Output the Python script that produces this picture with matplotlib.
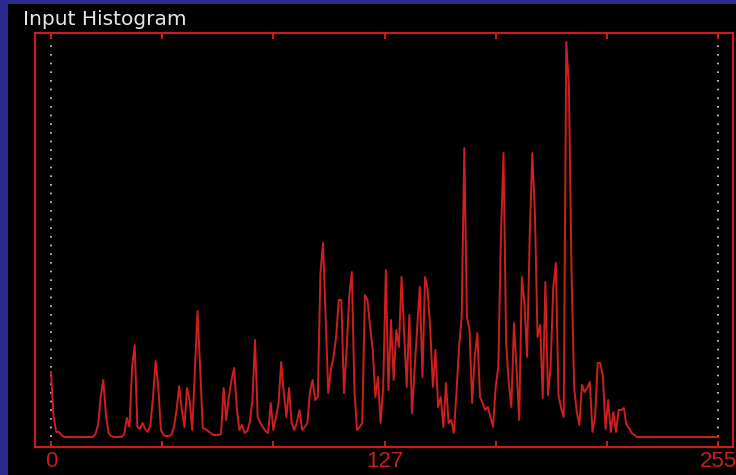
import matplotlib
matplotlib.use("Agg")
import matplotlib.pyplot as plt
from matplotlib.patches import Rectangle
import numpy as np

title = "Input Histogram"
tick_positions = [0, 42.5, 85, 127.5, 170, 212.5, 255]
tick_labels = ["0", "", "", "127", "", "", "255"]
marker_lines = [0, 255]

counts = [
    65, 20, 5, 5, 2, 0, 0, 0, 0, 0,
    0, 0, 0, 0, 0, 0, 0, 3, 12, 40,
    57, 22, 4, 1, 0, 0, 0, 0, 3, 19,
    10, 70, 92, 10, 8, 14, 8, 5, 12, 40,
    76, 50, 7, 2, 1, 1, 2, 10, 27, 51,
    27, 10, 49, 37, 7, 67, 126, 70, 9, 8,
    6, 4, 2, 2, 2, 3, 49, 17, 40, 57,
    69, 30, 7, 12, 4, 6, 15, 37, 97, 20,
    14, 10, 6, 4, 34, 7, 20, 34, 75, 44,
    20, 49, 14, 7, 15, 27, 7, 10, 14, 45,
    57, 37, 40, 164, 194, 119, 44, 67, 80, 100,
    137, 137, 44, 87, 140, 165, 47, 7, 10, 14,
    142, 137, 110, 87, 40, 60, 14, 50, 167, 47,
    117, 57, 107, 90, 160, 104, 50, 122, 24, 67,
    110, 150, 60, 160, 147, 107, 50, 87, 30, 40,
    10, 54, 14, 17, 4, 44, 90, 120, 289, 120,
    107, 34, 80, 104, 40, 34, 27, 30, 20, 10,
    50, 70, 200, 284, 94, 54, 30, 114, 67, 17,
    160, 134, 80, 200, 284, 224, 100, 112, 39, 155,
    42, 70, 149, 174, 42, 29, 20, 395, 350, 165,
    50, 25, 12, 52, 45, 49, 55, 5, 20, 74,
    74, 60, 8, 37, 5, 25, 5, 27, 27, 29,
    12, 9, 4, 2, 0, 0, 0, 0, 0, 0,
    0, 0, 0, 0, 0, 0, 0, 0, 0, 0,
    0, 0, 0, 0, 0, 0, 0, 0, 0, 0,
    0, 0, 0, 0, 0, 0,
]
levels = list(range(len(counts)))

W, H = 736, 475
fig = plt.figure(figsize=(W / 100, H / 100), dpi=100)
fig.patch.set_facecolor("#2b2b8e")
fig.patches.append(Rectangle((8 / W, 0), 1 - 8 / W, 1 - 3.5 / H,
                             transform=fig.transFigure, facecolor="black",
                             edgecolor="none", zorder=-10))

red = "#c81e1e"
ax = fig.add_axes([35 / W, (H - 447) / H, (733 - 35) / W, (447 - 33) / H])
ax.set_zorder(1)
ax.set_facecolor("black")
ax.plot(levels, counts, color="#cc1f1f", lw=1.4, zorder=3)
ax.vlines(marker_lines, 0, 392, colors="#d8d8d8", linestyles=(0, (1, 4.2)),
          lw=1.2, zorder=2)

ax.set_xlim(-6.12, 260.73)
ax.set_ylim(-10, 404)
for s in ax.spines.values():
    s.set_color(red)
    s.set_linewidth(1.6)
ax.set_yticks([])
ax.set_xticks(tick_positions)
ax.set_xticklabels(tick_labels)
ax.tick_params(axis="x", direction="in", length=4, width=1.5, color=red,
               top=True, bottom=True, labelcolor=red, labelsize=16, pad=3)
for lab in ax.get_xticklabels():
    lab.set_family(["Liberation Sans", "DejaVu Sans"])

fig.text(23 / W, 1 - 25 / H, title, color="#e6e6e6", fontsize=14.5,
         family="DejaVu Sans", va="baseline", ha="left", zorder=5)

fig.savefig("out.png", dpi=100, facecolor=fig.get_facecolor())
